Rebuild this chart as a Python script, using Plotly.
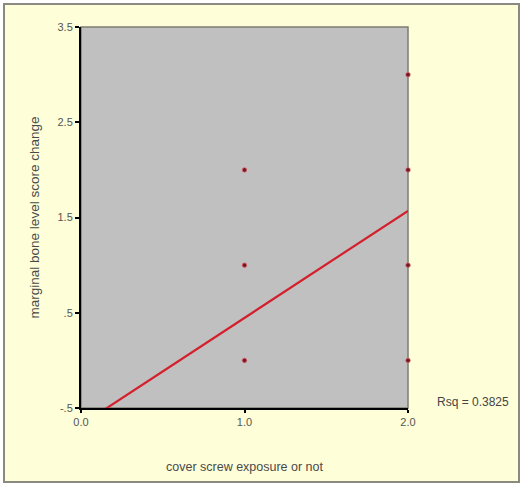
import plotly.graph_objects as go

# data
exposure = [1, 1, 1, 2, 2, 2, 2]
bone_change = [2, 1, 0, 3, 2, 1, 0]
fit_x = [0.0, 2.0]
fit_intercept = -0.678
fit_slope = 1.124
rsq_label = "Rsq = 0.3825"
y_ticks = [3.5, 2.5, 1.5, 0.5, -0.5]
y_tick_labels = ["3.5", "2.5", "1.5", ".5", "-.5"]
x_ticks = [0, 1, 2]
x_tick_labels = ["0.0", "1.0", "2.0"]

fit_y = [fit_intercept + fit_slope * v for v in fit_x]

W, H = 524, 486
L, R, T, B = 81, 116, 27, 78
pw, ph = W - L - R, H - T - B

def px(x):
    return (x - L) / pw

def py(y):
    return (H - B - y) / ph

fig = go.Figure()
fig.add_trace(go.Scatter(x=fit_x, y=fit_y, mode="lines",
                         line=dict(color="#d41f2c", width=2.2),
                         hoverinfo="skip", showlegend=False))
fig.add_trace(go.Scatter(x=exposure, y=bone_change, mode="markers",
                         marker=dict(color="#6e1a28", size=4.5,
                                     line=dict(color="#e0606a", width=0.8)),
                         cliponaxis=False, showlegend=False))

fig.update_layout(
    width=W, height=H,
    margin=dict(l=L, r=R, t=T, b=B),
    paper_bgcolor="white",
    plot_bgcolor="rgba(0,0,0,0)",
    font=dict(family="Liberation Sans, Arial, sans-serif", size=11, color="#444444"),
    xaxis=dict(range=[0, 2], tickvals=x_ticks, ticktext=x_tick_labels,
               showgrid=False, zeroline=False, showline=True,
               linecolor="black", linewidth=2, ticks="outside", ticklen=3,
               tickcolor="black", tickwidth=2,
               tickfont=dict(size=11, color="#555555"),
               title=dict(text="cover screw exposure or not", standoff=35,
                          font=dict(size=12.5, color="#4a4a4a"))),
    yaxis=dict(range=[-0.5, 3.5], tickvals=y_ticks, ticktext=y_tick_labels,
               showgrid=False, zeroline=False, showline=True,
               linecolor="black", linewidth=2, ticks="outside", ticklen=4,
               tickcolor="black", tickwidth=2,
               tickfont=dict(size=11, color="#555555"),
               title=dict(text="marginal bone level score change", standoff=15,
                          font=dict(size=13.5, color="#4a4a4a"))),
    shapes=[
        dict(type="rect", xref="paper", yref="paper", layer="below",
             x0=px(4), x1=px(519), y0=py(482), y1=py(4),
             fillcolor="#fefed9", line=dict(color="#8a8a80", width=2)),
        dict(type="rect", xref="paper", yref="paper", layer="below",
             x0=0, x1=1, y0=0, y1=1,
             fillcolor="#c0c0c0", line=dict(color="#7c7c70", width=1.5)),
    ],
    annotations=[
        dict(text=rsq_label, xref="paper", yref="paper",
             x=px(473), y=py(402), xanchor="center", yanchor="middle",
             showarrow=False, font=dict(size=12, color="#444444")),
    ],
)

fig.write_html("out.html", config={"displayModeBar": False},
               post_script="document.body.style.margin='0';")
